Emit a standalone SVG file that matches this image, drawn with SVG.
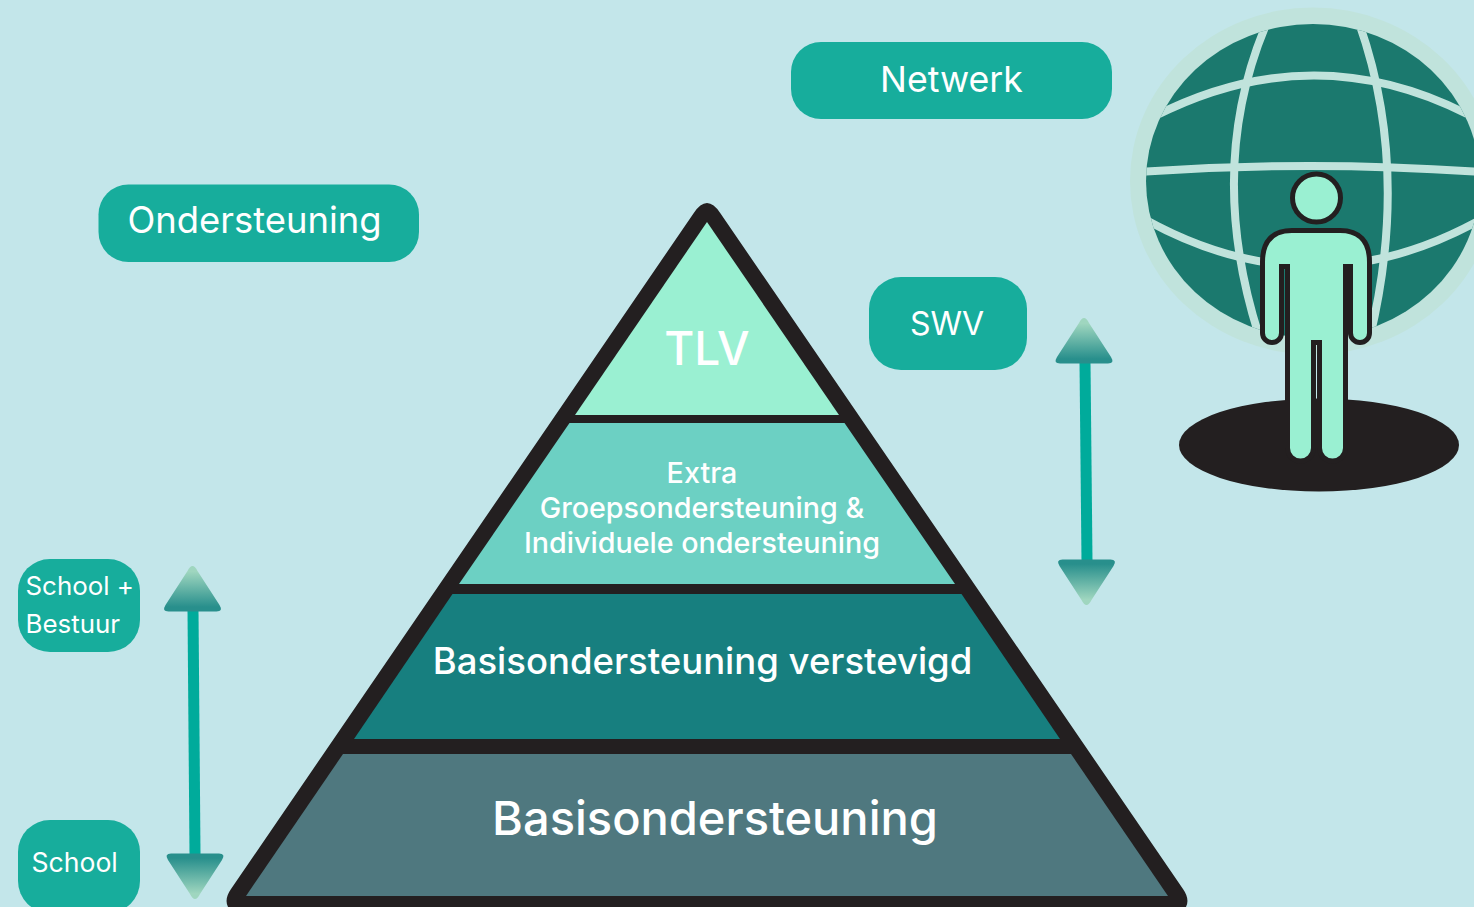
<svg xmlns="http://www.w3.org/2000/svg" width="1474" height="907" viewBox="0 0 1474 907">
<style>
text{font-family:"Inter","Liberation Sans",sans-serif;fill:#fff}
.pill{fill:#17AD9C}
.shaft{stroke:#00AB9B;stroke-width:11;fill:none}
.grid{stroke:#C0E3DC;stroke-width:8;fill:none}
</style>
<defs>
<linearGradient id="headGrad" x1="0" y1="0" x2="0" y2="1">
<stop offset="0.12" stop-color="#9FD6BF"/>
<stop offset="0.9" stop-color="#288F8C"/>
</linearGradient>
<path id="head" fill="url(#headGrad)" d="M-5,5 Q0,-5 5,5 L27,39 Q31,45.500 24,45.500 H-24 Q-31,45.500 -27,39 Z"/>
<clipPath id="globeClip"><ellipse cx="1313" cy="181" rx="167" ry="157"/></clipPath>
</defs>
<rect width="1474" height="907" fill="#C3E6EA"/>

<g id="globe">
<ellipse cx="1313" cy="181" rx="183" ry="173.500" fill="#C0E3DC"/>
<ellipse cx="1313" cy="181" rx="167" ry="157" fill="#1B796E"/>
<g clip-path="url(#globeClip)">
<path class="grid" d="M1268,20 Q1203,170 1262,345"/>
<path class="grid" d="M1358,20 Q1412,170 1368,345"/>
<path class="grid" d="M1140,172 Q1310,160 1480,172"/>
<path class="grid" d="M1155,116 Q1313,36 1467,114"/>
<path class="grid" d="M1146,220 Q1313,312 1480,220"/>
</g>
</g>
<g id="person">
<ellipse cx="1319" cy="445" rx="140" ry="46.500" fill="#231F20"/>
<path fill="#9AF0D2" stroke="#231F20" stroke-width="10" stroke-linejoin="round" paint-order="stroke" d="M1292,233 H1340 Q1367,233 1367,262 V333 a7,7 0 0 1 -14,0 V264 H1343 V448 a10.500,10.500 0 0 1 -21,0 V340 H1311 V448 a10.500,10.500 0 0 1 -21,0 V264 H1279 V333 a7,7 0 0 1 -14,0 V262 Q1265,233 1292,233 Z"/>
<circle cx="1316.500" cy="198" r="24" fill="#9AF0D2" stroke="#231F20" stroke-width="5"/>
</g>

<g id="pyramid">
<path fill="#231F20" d="M693.800,213 Q707,193 720.200,213 L1183,889 Q1190,899 1186,907 H228 Q224,899 231,889 Z"/>
<g id="level-tlv"><polygon fill="#9AF0D2" points="707,222 839,415 575,415"/>
<text x="707" y="365" font-size="46" font-weight="500" text-anchor="middle">TLV</text></g>
<g id="level-extra"><polygon fill="#6CD0C3" points="569.500,423 844.500,423 955,584 459,584"/>
<text x="702" y="483" font-size="28.700" font-weight="500" text-anchor="middle">Extra</text>
<text x="702" y="518" font-size="28.700" font-weight="500" text-anchor="middle">Groepsondersteuning &amp;</text>
<text x="702" y="553" font-size="28.700" font-weight="500" text-anchor="middle">Individuele ondersteuning</text></g>
<g id="level-verstevigd"><polygon fill="#177F7F" points="452.500,594 961.500,594 1060,739 354,739"/>
<text x="702.500" y="674" font-size="36.500" font-weight="500" text-anchor="middle">Basisondersteuning verstevigd</text></g>
<g id="level-basis"><polygon fill="#4F787F" points="343,754 1071,754 1168,896 246,896"/>
<text x="715" y="835" font-size="47" font-weight="500" text-anchor="middle">Basisondersteuning</text></g>
</g>

<g id="node-netwerk"><rect class="pill" x="791" y="42" width="321" height="77" rx="30"/>
<text x="951.500" y="92" font-size="35.700" text-anchor="middle">Netwerk</text></g>
<g id="node-ondersteuning"><rect class="pill" x="98.500" y="184.500" width="320.500" height="77.500" rx="30"/>
<text x="254.500" y="233" font-size="36.400" text-anchor="middle">Ondersteuning</text></g>
<g id="node-swv"><rect class="pill" x="869" y="277" width="158" height="93" rx="32"/>
<text x="947" y="335" font-size="32" text-anchor="middle">SWV</text></g>
<g id="node-school-bestuur"><rect class="pill" x="18" y="559" width="122" height="93" rx="32"/>
<text x="25.500" y="595" font-size="25.900">School +</text>
<text x="25.500" y="633" font-size="25.900">Bestuur</text></g>
<g id="node-school"><rect class="pill" x="18" y="820" width="122" height="93" rx="32"/>
<text x="31.500" y="872" font-size="26.600">School</text></g>

<g id="connectors">
<line class="shaft" x1="1085" y1="362" x2="1087" y2="561"/>
<use href="#head" transform="translate(1084,318)"/>
<use href="#head" transform="translate(1086.500,605) scale(1,-1)"/>
<line class="shaft" x1="193" y1="610" x2="195" y2="854"/>
<use href="#head" transform="translate(192.500,566)"/>
<use href="#head" transform="translate(195,899) scale(1,-1)"/>
</g>
</svg>
